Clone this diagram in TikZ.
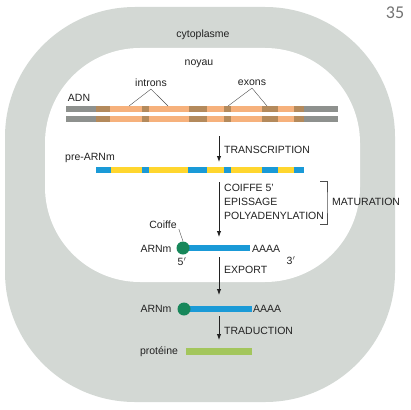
\documentclass[tikz,border=0pt]{standalone}
\usepackage{fontspec}
\setmainfont{Liberation Sans}
\newfontfamily\pagefont{Carlito}
\usepackage{xcolor}
\usetikzlibrary{arrows.meta}

\definecolor{cyto}{HTML}{D3D8D4}
\definecolor{dnagray}{HTML}{8E918E}
\definecolor{dnadark}{HTML}{B48A5C}
\definecolor{dnalight}{HTML}{F6B17C}
\definecolor{rnablue}{HTML}{1A9AD7}
\definecolor{rnayellow}{HTML}{FFD62E}
\definecolor{capgreen}{HTML}{17875A}
\definecolor{protgreen}{HTML}{A3C65C}
\definecolor{ink}{HTML}{222222}

\begin{document}
\begin{tikzpicture}[
  x=1pt, y=-1pt,
  every node/.style={font=\fontsize{10.5}{12}\selectfont, text=ink, inner sep=0pt},
  step label/.style={anchor=west},
  flow/.style={-{Latex[length=6pt,width=4.5pt]}, line width=0.9pt, draw=ink},
  pointer/.style={draw=ink!80, line width=0.4pt},
  capdot/.style={circle, fill=capgreen, minimum size=13pt}
]
  \useasboundingbox (0,0) rectangle (411,409);
  \fill[cyto, rounded corners=130pt] (5,7) rectangle (395,402);
  \fill[white, rounded corners=95pt] (45,48) rectangle (360,282);

  \node[font=\pagefont\fontsize{18}{20}\selectfont, text=black!55] (page) at (395,13) {35};
  \node (cyto) at (203,35) {cytoplasme};
  \node (noyau) at (199,64) {noyau};

  % ADN
  \foreach \a/\b/\c in {66/96/dnagray, 96/110/dnadark, 110/142/dnalight, 142/149/dnadark,
      149/189/dnalight, 189/207/dnadark, 207/224/dnalight, 224/231/dnadark,
      231/262/dnalight, 262/278/dnadark, 278/294/dnalight, 294/304/dnadark, 304/338/dnagray} {
    \fill[\c] (\a,106) rectangle (\b,112);
    \fill[\c] (\a,116) rectangle (\b,122);
  }
  \node (adn) at (79,98) {ADN};
  \node (introns) at (151,83) {introns};
  \node (exons) at (252,83) {exons};
  \coordinate (intron1) at (129,106);
  \coordinate (intron2) at (168,106);
  \coordinate (exon1) at (228,106);
  \coordinate (exon2) at (267,106);
  \draw[pointer] (intron1) -- ([yshift=-2pt]introns.south) -- (intron2);
  \draw[pointer] (exon1) -- ([yshift=-2pt]exons.south) -- (exon2);

  % pre-ARNm
  \coordinate (t1) at (219,136);
  \coordinate (t2) at (219,162);
  \draw[flow] (t1) -- (t2);
  \node[step label] (transcription) at (224,150) {TRANSCRIPTION};
  \node (prearn) at (90,158) {pre-ARNm};
  \foreach \a/\b/\c in {96/111/rnablue, 111/142/rnayellow, 142/149/rnablue, 149/188/rnayellow,
      188/207/rnablue, 207/224/rnayellow, 224/231/rnablue, 231/262/rnayellow,
      262/278/rnablue, 278/294/rnayellow, 294/304/rnablue} {
    \fill[\c] (\a,167) rectangle (\b,173);
  }

  % maturation
  \coordinate (m1) at (219,182);
  \coordinate (m2) at (219,237);
  \draw[flow] (m1) -- (m2);
  \node[step label] (coiffe5) at (224,188) {COIFFE 5'};
  \node[step label] (epissage) at (224,202) {EPISSAGE};
  \node[step label] (polya) at (224,216) {POLYADENYLATION};
  \coordinate (br1) at (320,181);
  \coordinate (br2) at (320,224);
  \draw[pointer] (br1) -| (327,202.5) |- (br2);
  \node[step label] (maturation) at (332,202) {MATURATION};

  % ARNm (noyau)
  \fill[rnablue] (183,245) rectangle (250,251);
  \node[capdot] (cap1) at (183,248) {};
  \node (arnm1) at (156,249) {ARNm};
  \node[anchor=west] (polya1) at (252,249) {AAAA};
  \node (five) at (182,262) {5$'$};
  \node (three) at (291,261) {3$'$};
  \node (coiffe) at (163,225) {Coiffe};
  \draw[pointer] ([xshift=2pt]coiffe.south east) -- (cap1.north);

  % export
  \coordinate (e1) at (219,257);
  \coordinate (e2) at (219,295);
  \draw[flow] (e1) -- (e2);
  \node[step label] (export) at (224,270) {EXPORT};

  % ARNm (cytoplasme)
  \fill[rnablue] (184,306) rectangle (252,312);
  \node[capdot] (cap2) at (184,309) {};
  \node (arnm2) at (156,309) {ARNm};
  \node[anchor=west] (polya2) at (253,309) {AAAA};

  % traduction
  \coordinate (r1) at (219,316);
  \coordinate (r2) at (219,340);
  \draw[flow] (r1) -- (r2);
  \node[step label] (traduction) at (224,331) {TRADUCTION};
  \node (proteine) at (159,352) {protéine};
  \fill[protgreen] (186,348) rectangle (252,355);
\end{tikzpicture}
\end{document}
